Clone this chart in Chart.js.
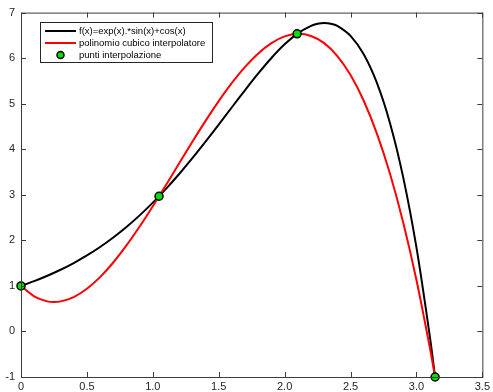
<!DOCTYPE html>
<html>
<head>
<meta charset="utf-8">
<script src="https://cdn.jsdelivr.net/npm/chart.js@4"></script>
<style>
  html, body { margin: 0; padding: 0; background: #fff; }
  #wrap { width: 493px; height: 392px; }
</style>
</head>
<body>
<div id="wrap"><canvas id="chart" width="493" height="392"></canvas></div>
<script>
const xs = [0, 0.1, 0.2, 0.3, 0.4, 0.5, 0.6, 0.7, 0.8, 0.9, 1.0, 1.1, 1.2, 1.3, 1.4, 1.5, 1.6, 1.7, 1.8, 1.9, 2.0, 2.1, 2.2, 2.25, 2.3, 2.35, 2.4, 2.5, 2.6, 2.7, 2.8, 2.9, 3.0, 3.1, 3.1416];
const fVals = [1, 1.105, 1.223, 1.354, 1.502, 1.668, 1.854, 2.062, 2.293, 2.548, 2.828, 3.131, 3.457, 3.803, 4.166, 4.541, 4.922, 5.299, 5.664, 6.004, 6.303, 6.544, 6.708, 6.754, 6.772, 6.757, 6.708, 6.490, 6.084, 5.455, 4.567, 3.377, 1.844, -0.076, -1];
const pxs = [0, 0.1, 0.2, 0.25, 0.3, 0.4, 0.5, 0.6, 0.7, 0.8, 0.9, 1.0, 1.1, 1.2, 1.3, 1.4, 1.5, 1.6, 1.7, 1.8, 1.9, 2.0, 2.1, 2.2, 2.3, 2.4, 2.5, 2.6, 2.7, 2.8, 2.9, 3.0, 3.1, 3.1416];
const pys = [1, 0.771, 0.661, 0.647, 0.660, 0.755, 0.937, 1.193, 1.514, 1.888, 2.303, 2.750, 3.216, 3.691, 4.163, 4.622, 5.057, 5.456, 5.809, 6.104, 6.330, 6.477, 6.533, 6.487, 6.329, 6.046, 5.628, 5.065, 4.344, 3.455, 2.387, 1.129, -0.331, -1];
const nodeX = [0, 1.0472, 2.0944, 3.1416];
const nodeY = [1, 2.968, 6.533, -1];
const xTicks = [0, 0.5, 1, 1.5, 2, 2.5, 3, 3.5];
const yTicks = [-1, 0, 1, 2, 3, 4, 5, 6, 7];

const axisColor = '#3c3c3c';

// box around the axes + matlab style inward ticks
const boxTicks = {
    id: 'boxTicks',
    afterDraw(chart) {
        const { ctx, chartArea: a, scales } = chart;
        ctx.save();
        ctx.strokeStyle = axisColor;
        ctx.lineWidth = 1;
        ctx.strokeRect(a.left + 0.5, a.top + 0.5, a.right - a.left, a.bottom - a.top);
        ctx.beginPath();
        xTicks.forEach(v => {
            const px = Math.round(scales.x.getPixelForValue(v)) + 0.5;
            ctx.moveTo(px, a.bottom); ctx.lineTo(px, a.bottom - 5);
            ctx.moveTo(px, a.top); ctx.lineTo(px, a.top + 5);
        });
        yTicks.forEach(v => {
            const py = Math.round(scales.y.getPixelForValue(v)) + 0.5;
            ctx.moveTo(a.left, py); ctx.lineTo(a.left + 5, py);
            ctx.moveTo(a.right, py); ctx.lineTo(a.right - 5, py);
        });
        ctx.stroke();
        ctx.restore();
    }
};

// legend box drawn inside the plot, top-left
const innerLegend = {
    id: 'innerLegend',
    afterDraw(chart) {
        const ctx = chart.ctx;
        const bx = 40.5, by = 22.5, bw = 172, bh = 40;
        ctx.save();
        ctx.fillStyle = '#fff';
        ctx.fillRect(bx, by, bw, bh);
        ctx.strokeStyle = '#262626';
        ctx.lineWidth = 1;
        ctx.strokeRect(bx, by, bw, bh);
        ctx.font = '9.5px "Liberation Sans", Arial, sans-serif';
        ctx.textBaseline = 'middle';
        const rows = [31, 43, 55];
        chart.data.datasets.forEach((ds, i) => {
            const y = rows[i];
            if (ds.showLine) {
                ctx.strokeStyle = ds.borderColor;
                ctx.lineWidth = 2;
                ctx.beginPath();
                ctx.moveTo(45, y); ctx.lineTo(76, y);
                ctx.stroke();
            } else {
                ctx.fillStyle = ds.pointBackgroundColor;
                ctx.strokeStyle = ds.pointBorderColor;
                ctx.lineWidth = 1.5;
                ctx.beginPath();
                ctx.arc(60.5, y, 3.5, 0, Math.PI * 2);
                ctx.fill(); ctx.stroke();
            }
            ctx.fillStyle = '#000';
            ctx.fillText(ds.label, 79, y);
        });
        ctx.restore();
    }
};

new Chart(document.getElementById('chart'), {
    type: 'scatter',
    data: {
        datasets: [
            {
                label: 'f(x)=exp(x).*sin(x)+cos(x)',
                data: xs.map((x, i) => ({ x: x, y: fVals[i] })),
                showLine: true,
                borderColor: '#000000',
                borderWidth: 2,
                pointRadius: 0,
                tension: 0.3,
                order: 2
            },
            {
                label: 'polinomio cubico interpolatore',
                data: pxs.map((x, i) => ({ x: x, y: pys[i] })),
                showLine: true,
                borderColor: '#ff0000',
                borderWidth: 2,
                pointRadius: 0,
                tension: 0.3,
                order: 1
            },
            {
                label: 'punti interpolazione',
                data: nodeX.map((x, i) => ({ x: x, y: nodeY[i] })),
                showLine: false,
                pointBackgroundColor: '#00e000',
                pointBorderColor: '#000000',
                pointBorderWidth: 1.5,
                pointRadius: 4,
                clip: false,
                order: 0
            }
        ]
    },
    options: {
        responsive: false,
        animation: false,
        layout: { padding: { top: 12, right: 9, left: 0, bottom: 0 } },
        plugins: { legend: { display: false }, tooltip: { enabled: false } },
        scales: {
            x: {
                type: 'linear',
                min: 0, max: 3.5,
                afterBuildTicks: s => { s.ticks = xTicks.map(v => ({ value: v })); },
                afterFit: s => { s.height = 15; },
                grid: { display: false, drawTicks: false },
                border: { display: false },
                ticks: { padding: 3, color: '#262626', font: { family: '"Liberation Sans", Arial, sans-serif', size: 11 }, maxRotation: 0 }
            },
            y: {
                min: -1, max: 7,
                afterBuildTicks: s => { s.ticks = yTicks.map(v => ({ value: v })); },
                afterFit: s => { s.width = 21; },
                grid: { display: false, drawTicks: false },
                border: { display: false },
                ticks: { padding: 6, color: '#262626', font: { family: '"Liberation Sans", Arial, sans-serif', size: 11 } }
            }
        }
    },
    plugins: [boxTicks, innerLegend]
});
</script>
</body>
</html>
